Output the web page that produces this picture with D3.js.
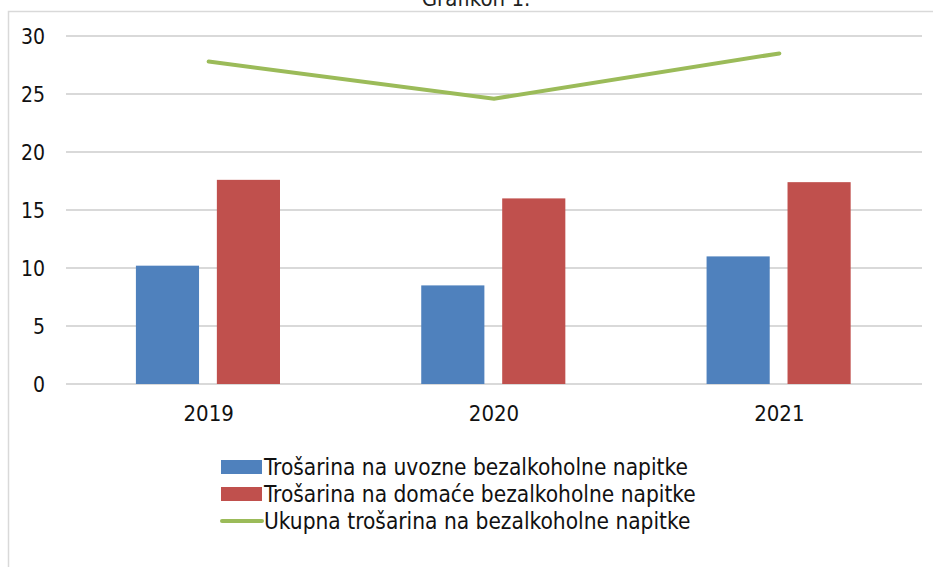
<!DOCTYPE html>
<html>
<head>
<meta charset="utf-8">
<script src="https://cdn.jsdelivr.net/npm/d3@7"></script>
<style>
  body { margin: 0; background: #fff; }
  svg { display: block; font-family: "DejaVu Sans Condensed", "DejaVu Sans", sans-serif; }
</style>
</head>
<body>
<svg id="chart" width="933" height="567"></svg>
<script>
// data
const years = ['2019', '2020', '2021']
const series = ['Trošarina na uvozne bezalkoholne napitke', 'Trošarina na domaće bezalkoholne napitke']
const uvozne = [10.2, 8.5, 11.0]
const domace = [17.6, 16.0, 17.4]
const ukupna = [27.8, 24.6, 28.5]
const lineName = 'Ukupna trošarina na bezalkoholne napitke'
const yTicks = [0, 5, 10, 15, 20, 25, 30]

const barColors = ['#4f81bd', '#c0504d']
const lineColor = '#9bbb59'
const gridColor = '#d9d9d9'
const font = '"DejaVu Sans Condensed", "DejaVu Sans", sans-serif'

let svg = d3.select('#chart')

// title, cut off at the top like in the source
svg.append('text')
    .attr('x', 476).attr('y', 6)
    .attr('text-anchor', 'middle')
    .style('font-size', '22px')
    .style('fill', '#222')
    .text('Grafikon 1.')

// chart frame
svg.append('path')
    .attr('d', 'M8.5,567 V11.5 H933')
    .style('fill', 'none')
    .style('stroke', gridColor)
    .style('stroke-width', 1.5)

let plot = {left: 66, right: 922, top: 36, bottom: 384}

let x0 = d3.scaleBand().domain(years).range([plot.left, plot.right])
let x1 = d3.scaleBand().domain(series)
    .range([x0.bandwidth() * 0.245, x0.bandwidth() * 0.75])
    .paddingInner(0.22)
let y = d3.scaleLinear().domain([0, 30]).range([plot.bottom, plot.top])

// gridlines
svg.append('g')
    .selectAll('line')
    .data(yTicks)
    .enter()
    .append('line')
        .attr('x1', plot.left).attr('x2', plot.right)
        .attr('y1', d => y(d)).attr('y2', d => y(d))
        .style('stroke', gridColor)
        .style('stroke-width', 2)

// y axis labels
let yAxis = d3.axisLeft(y).tickValues(yTicks).tickSize(0).tickPadding(0)
let yg = svg.append('g')
    .attr('transform', 'translate(45,0)')
    .call(yAxis)
yg.select('.domain').remove()
yg.selectAll('text')
    .attr('dy', '0.35em')
    .style('font-size', '21px')
    .style('font-family', font)
    .style('fill', '#111')

// bars
let barData = [uvozne, domace]
let groups = svg.append('g')
    .selectAll('g')
    .data(years)
    .enter()
    .append('g')
        .attr('transform', d => 'translate(' + x0(d) + ',0)')

groups.selectAll('rect')
    .data((d, i) => series.map((s, j) => ({s: s, v: barData[j][i], c: barColors[j]})))
    .enter()
    .append('rect')
        .attr('x', d => x1(d.s))
        .attr('width', x1.bandwidth())
        .attr('y', d => y(d.v))
        .attr('height', d => y(0) - y(d.v))
        .style('fill', d => d.c)

// total line
svg.append('path')
    .datum(ukupna)
    .attr('d', d3.line()
        .x((d, i) => x0(years[i]) + x0.bandwidth() / 2)
        .y(d => y(d)))
    .style('fill', 'none')
    .style('stroke', lineColor)
    .style('stroke-width', 4)
    .style('stroke-linecap', 'round')

// x axis labels
let xAxis = d3.axisBottom(x0).tickSize(0).tickPadding(0)
let xg = svg.append('g')
    .attr('transform', 'translate(0,421)')
    .call(xAxis)
xg.select('.domain').remove()
xg.selectAll('text')
    .attr('dy', 0)
    .style('font-size', '22px')
    .style('font-family', font)
    .style('fill', '#111')

// legend
let legendItems = [
    {name: series[0], color: barColors[0], type: 'bar'},
    {name: series[1], color: barColors[1], type: 'bar'},
    {name: lineName, color: lineColor, type: 'line'}
]
let legend = svg.append('g')
    .selectAll('g')
    .data(legendItems)
    .enter()
    .append('g')
        .attr('transform', (d, i) => 'translate(221,' + (467 + i * 27) + ')')

legend.filter(d => d.type == 'bar')
    .append('rect')
        .attr('x', 0).attr('y', -7)
        .attr('width', 41).attr('height', 14)
        .style('fill', d => d.color)
legend.filter(d => d.type == 'line')
    .append('line')
        .attr('x1', 1).attr('x2', 41)
        .attr('y1', 0).attr('y2', 0)
        .style('stroke', d => d.color)
        .style('stroke-width', 4)
        .style('stroke-linecap', 'round')
legend.append('text')
    .attr('x', 43)
    .attr('dy', '0.36em')
    .style('font-size', '22.5px')
    .style('fill', '#111')
    .text(d => d.name)
</script>
</body>
</html>
